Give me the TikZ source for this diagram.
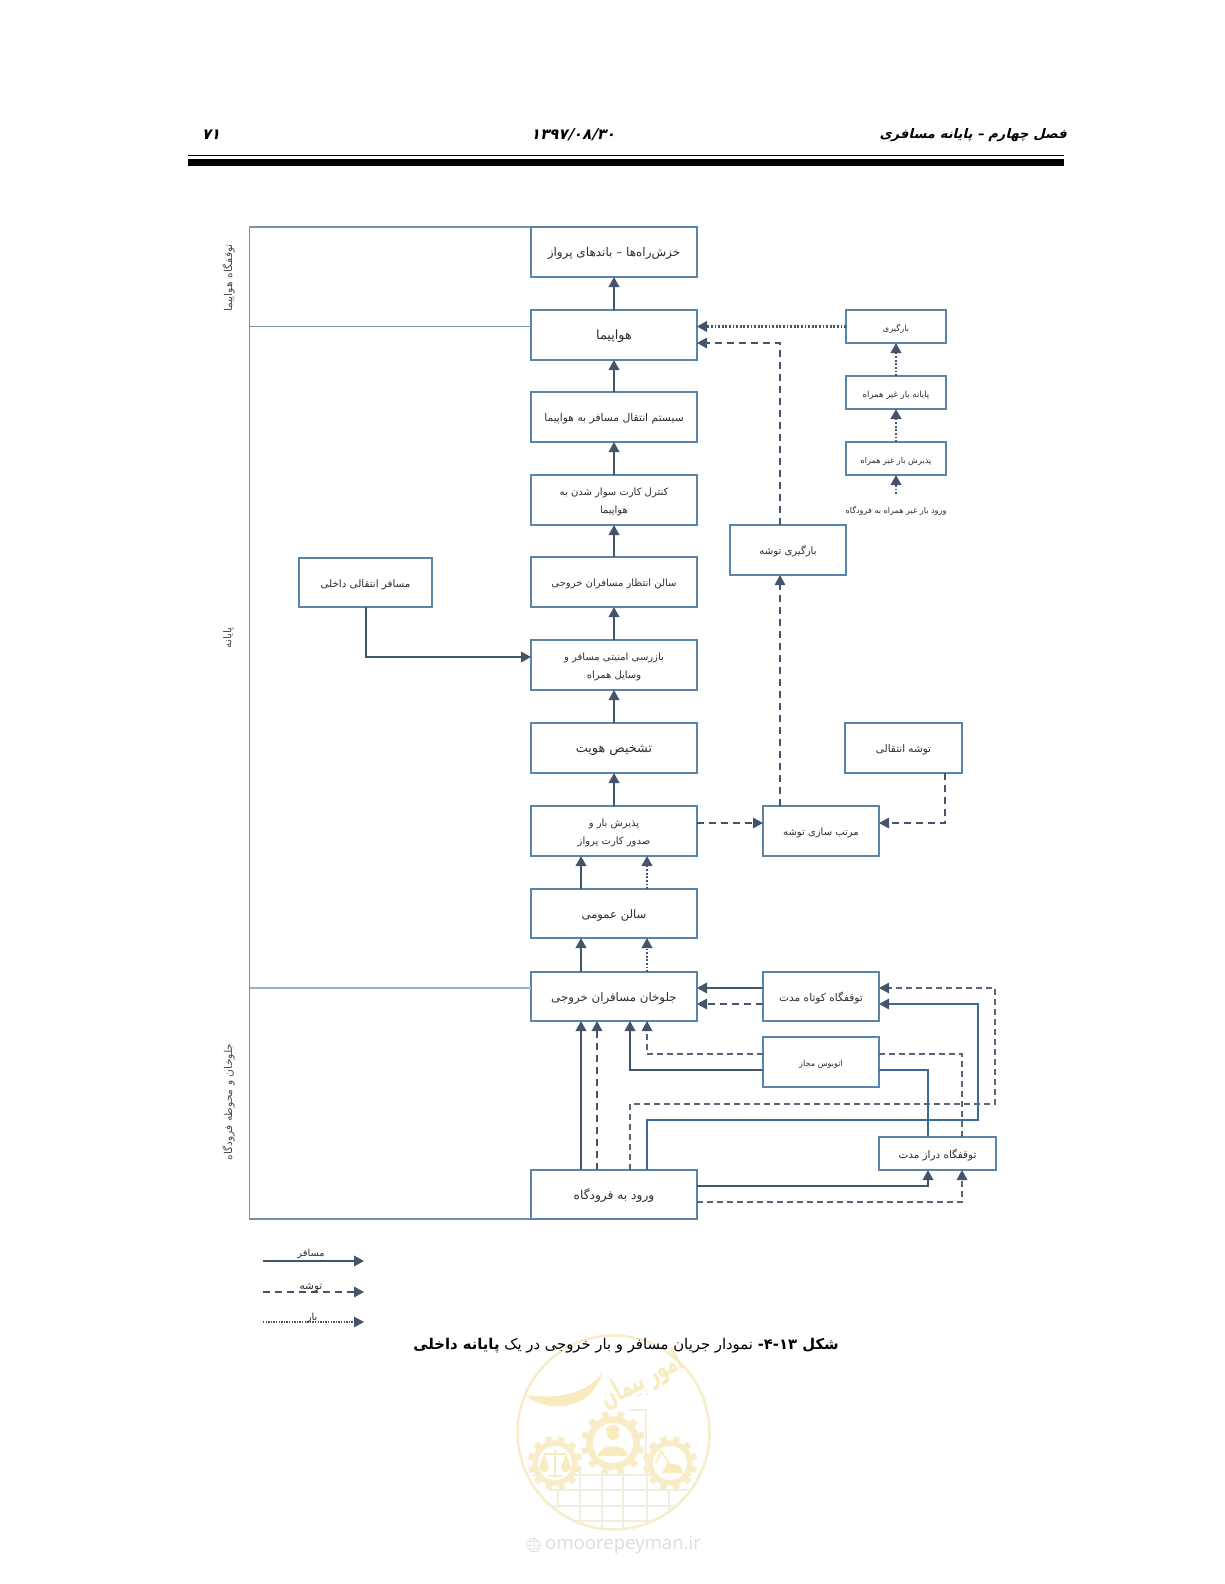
\documentclass[tikz,border=0pt]{standalone}
\usepackage{fontspec}
\usetikzlibrary{arrows.meta,calc}
\TeXXeTstate=1
\newfontfamily\fa[Script=Arabic]{DejaVu Sans}
\newfontfamily\fahead[Script=Arabic,FakeSlant=0.25]{DejaVu Sans}
\newfontfamily\webfont{Open Sans}
\newfontfamily\emojifont{Noto Emoji}
\newcommand{\rt}[1]{\raisebox{-2.5pt}[7pt][3pt]{\beginR #1\endR}}
\definecolor{bord}{HTML}{5A84A8}
\definecolor{flow}{HTML}{44546A}
\definecolor{bluel}{HTML}{3D6A96}
\definecolor{framec}{HTML}{6F93B0}
\definecolor{txt}{HTML}{2E2E2E}
\definecolor{wm}{HTML}{F8EDC8}
\definecolor{wmd}{HTML}{F8EBC0}
\definecolor{wmg}{HTML}{F2EEDF}
\definecolor{urlc}{HTML}{DCDCDC}
\tikzset{
  box/.style={draw=bord,line width=1.9pt,fill=white,inner sep=0pt,outer sep=0pt,align=center,text=txt,font=\fa\fontsize{10}{18}\selectfont},
  tipflow/.style={-{Triangle[width=10.5pt,length=10pt,color=flow,fill=flow]}},
  pax/.style={draw=flow,line width=2pt},
  bag/.style={draw=flow,line width=1.6pt,dash pattern=on 7pt off 5pt},
  frt/.style={draw=flow,line width=2.2pt,dash pattern=on 1.8pt off 1.8pt},
  paxthin/.style={draw=bluel,line width=1.5pt},
  bagthin/.style={draw=flow!90,line width=1.2pt,dash pattern=on 6pt off 4pt},
  frameline/.style={draw=framec,line width=1.2pt},
  sidelabel/.style={rotate=90,text=txt!85,font=\fa\fontsize{10.8}{12}\selectfont,inner sep=0pt},
  legendlabel/.style={text=txt,font=\fa\fontsize{9.8}{12}\selectfont,inner sep=0pt},
}
\newcommand{\bx}[7][]{%
  \pgfmathsetmacro\bxcx{(#3+#5)/2}\pgfmathsetmacro\bxcy{(#4+#6)/2}%
  \pgfmathsetmacro\bxw{#5-#3}\pgfmathsetmacro\bxh{#6-#4}%
  \node[box,#1,minimum width=\bxw pt,minimum height=\bxh pt] (#2) at (\bxcx,\bxcy) {#7};}
\newcommand{\gearshape}[4]{% cx cy router rinner
  \fill[wm] (#1,#2) circle (#3*0.84);
  \foreach \a in {0,30,...,330}{\fill[wm,rotate around={\a+15:(#1,#2)}] (#1-3.2,#2-#3) rectangle (#1+3.2,#2-#3*0.8);}
  \fill[white] (#1,#2) circle (#4);}
\begin{document}
\begin{tikzpicture}[x=1pt,y=-1pt]
\useasboundingbox (0,0) rectangle (1224,1584);
\fill[white] (0,0) rectangle (1224,1584);

% watermark
\draw[wm,line width=2.5pt] (613.5,1432.5) ellipse [x radius=96,y radius=97];
\begin{scope}[wmg,line width=2pt]
\draw (533,1474.5) -- (692,1474.5);
\draw (549,1490) -- (692,1490);
\draw (550,1506) -- (678,1506);
\draw (572,1521) -- (655,1521);
\foreach \xx/\yya/\yyb in {558/1490/1508,580/1470/1524,602/1470/1528,623/1470/1528,647/1470/1524,669/1490/1510}{\draw (\xx,\yya) -- (\xx,\yyb);}
\draw (630,1410) -- (646,1410) -- (646,1470);
\end{scope}
\gearshape{613}{1443}{32}{20}
\gearshape{555}{1463}{27}{17}
\gearshape{670}{1463}{27}{17}
% person
\fill[wmd] (613,1434) circle (6);
\fill[wmd] (606,1431) arc (180:360:7 and 6) -- cycle;
\fill[wmd] (598,1456) .. controls (599,1443) and (627,1443) .. (628,1456) -- cycle;
% scales
\draw[wmd,line width=1.3pt] (555,1450) -- (555,1475) (544,1454) -- (566,1454) (548,1476) -- (562,1476);
\fill[wmd] (544,1454) -- (539,1467) arc (180:0:5) -- cycle;
\fill[wmd] (566,1454) -- (561,1467) arc (180:0:5) -- cycle;
% excavator
\fill[wmd] (662,1473) -- (683,1473) -- (680,1465) -- (667,1463) -- cycle;
\draw[wmd,line width=1.8pt] (669,1463) -- (661,1451) -- (656,1463);
% calligraphy
\fill[wmd] (525,1395) .. controls (560,1400) and (590,1392) .. (602,1372) .. controls (596,1404) and (555,1418) .. (525,1395) -- cycle;
\node[wmd,inner sep=0pt,rotate=28,font=\fa\bfseries\fontsize{20}{24}\selectfont,xscale=0.85,yscale=1.5] (wmtext) at (642,1381) {\beginR امور پیمان\endR};
\node[text=urlc,inner sep=0pt,anchor=west,font=\webfont\fontsize{18.6}{20}\selectfont] (wmurl) at (545,1545) {omoorepeyman.ir};
\node[text=urlc,inner sep=0pt,font=\emojifont\fontsize{14}{15}\selectfont] (wmglobe) at (534,1545.5) {🌐};

% page header
\node[anchor=east,inner sep=0pt,font=\fahead\bfseries\fontsize{13.2}{15}\selectfont] (headr) at (1067,135.5) {\beginR فصل چهارم – پایانه مسافری\endR};
\node[inner sep=0pt,font=\fahead\bfseries\fontsize{15}{15}\selectfont] (headc) at (573,135) {\beginR ۱۳۹۷/۰۸/۳۰\endR};
\node[inner sep=0pt,font=\fahead\bfseries\fontsize{15}{15}\selectfont] (headl) at (211,135) {\beginR ۷۱\endR};
\fill[black] (188,154.6) rectangle (1064,155.8);
\fill[black] (188,159) rectangle (1064,166);

% frame
\draw[frameline] (531,227) -- (249.5,227) -- (249.5,1219) -- (531,1219);
\coordinate (frameA) at (249.5,326.5);
\coordinate (frameB) at (249.5,988);

% boxes
\bx[font=\fa\fontsize{12}{18}\selectfont]{taxi}{531}{227}{697}{277}{\rt{خزش‌راه‌ها – باندهای پرواز}}
\bx[font=\fa\fontsize{12.8}{18}\selectfont]{plane}{531}{310}{697}{360}{\rt{هواپیما}}
\bx[font=\fa\fontsize{10.7}{18}\selectfont]{sys}{531}{392}{697}{442}{\rt{سیستم انتقال مسافر به هواپیما}}
\bx{board}{531}{475}{697}{525}{\rt{کنترل کارت سوار شدن به}\\\rt{هواپیما}}
\bx{lounge}{531}{557}{697}{607}{\rt{سالن انتظار مسافران خروجی}}
\bx{secur}{531}{640}{697}{690}{\rt{بازرسی امنیتی مسافر و}\\\rt{وسایل همراه}}
\bx[font=\fa\fontsize{12.8}{18}\selectfont]{ident}{531}{723}{697}{773}{\rt{تشخیص هویت}}
\bx{check}{531}{806}{697}{856}{\rt{پذیرش بار و}\\\rt{صدور کارت پرواز}}
\bx[font=\fa\fontsize{11.6}{18}\selectfont]{hall}{531}{889}{697}{938}{\rt{سالن عمومی}}
\bx[font=\fa\fontsize{11.8}{18}\selectfont]{curb}{531}{972}{697}{1021}{\rt{جلوخان مسافران خروجی}}
\bx[font=\fa\fontsize{12.2}{18}\selectfont]{arrival}{531}{1170}{697}{1219}{\rt{ورود به فرودگاه}}
\bx[font=\fa\fontsize{10.6}{18}\selectfont]{short}{763}{972}{879}{1021}{\rt{توقفگاه کوتاه مدت}}
\bx[font=\fa\fontsize{8.1}{18}\selectfont]{shuttle}{763}{1037}{879}{1087}{\rt{اتوبوس مجاز}}
\bx[font=\fa\fontsize{10.4}{18}\selectfont]{long}{879}{1137}{996}{1170}{\rt{توقفگاه دراز مدت}}
\bx[font=\fa\fontsize{10.4}{18}\selectfont]{transfer}{845}{723}{962}{773}{\rt{توشه انتقالی}}
\bx{sort}{763}{806}{879}{856}{\rt{مرتب سازی توشه}}
\bx[font=\fa\fontsize{10.1}{18}\selectfont]{bagload}{730}{525}{846}{575}{\rt{بارگیری توشه}}
\bx[font=\fa\fontsize{10.3}{18}\selectfont]{dom}{299}{558}{432}{607}{\rt{مسافر انتقالی داخلی}}
\bx[font=\fa\fontsize{8.2}{18}\selectfont]{fload}{846}{310}{946}{343}{\rt{بارگیری}}
\bx[font=\fa\fontsize{8.5}{18}\selectfont]{fterm}{846}{376}{946}{409}{\rt{پایانه بار غیر همراه}}
\bx[font=\fa\fontsize{8.1}{18}\selectfont]{faccept}{846}{442}{946}{475}{\rt{پذیرش بار غیر همراه}}
\node[inner sep=0pt,text=txt,font=\fa\fontsize{8.1}{10}\selectfont] (fin) at (896,508.5) {\rt{ورود بار غیر همراه به فرودگاه}};
\coordinate (finTop) at (896,494);

% frame branches
\draw[frameline] (frameA) -- (plane.west |- frameA);
\draw[frameline,draw=framec!70] (frameB) -- (curb.west |- frameB);

% side labels
\node[sidelabel] (l1) at (228.5,278) {\beginR توقفگاه هواپیما\endR};
\node[sidelabel] (l2) at (228.5,638) {\beginR پایانه\endR};
\node[sidelabel] (l3) at (228.5,1102) {\beginR جلوخان و محوطه فرودگاه\endR};

% passenger column
\draw[pax,tipflow] (plane.north) -- (taxi.south);
\draw[pax,tipflow] (sys.north) -- (plane.south);
\draw[pax,tipflow] (board.north) -- (sys.south);
\draw[pax,tipflow] (lounge.north) -- (board.south);
\draw[pax,tipflow] (secur.north) -- (lounge.south);
\draw[pax,tipflow] (ident.north) -- (secur.south);
\draw[pax,tipflow] (check.north) -- (ident.south);
\draw[pax,tipflow] ([xshift=-33pt]hall.north) -- ([xshift=-33pt]check.south);
\draw[frt,tipflow] ([xshift=33pt]hall.north) -- ([xshift=33pt]check.south);
\draw[pax,tipflow] ([xshift=-33pt]curb.north) -- ([xshift=-33pt]hall.south);
\draw[frt,tipflow] ([xshift=33pt]curb.north) -- ([xshift=33pt]hall.south);
\draw[pax,tipflow] (dom.south) |- ([yshift=8pt]secur.west);

% arrival to curb
\draw[pax,tipflow] ([xshift=-33pt]curb.south |- arrival.north) -- ([xshift=-33pt]curb.south);
\draw[bag,tipflow] ([xshift=-17pt]curb.south |- arrival.north) -- ([xshift=-17pt]curb.south);
% short-term to curb
\draw[pax,tipflow] ([yshift=8.5pt]short.west) -- ([yshift=8.5pt]curb.east);
\draw[bag,tipflow] ([yshift=-7.5pt]short.west) -- ([yshift=-7.5pt]curb.east);
% shuttle
\draw[pax,tipflow] ([yshift=-8pt]shuttle.west) -| ([xshift=16pt]curb.south);
\draw[bagthin,tipflow] ([yshift=8pt]shuttle.west) -| ([xshift=33pt]curb.south);
\draw[paxthin] ([yshift=-8pt]shuttle.east) -| ([xshift=-9.5pt]long.north);
\draw[bagthin] ([yshift=8pt]shuttle.east) -| ([xshift=24.5pt]long.north);
% arrival to long-term
\draw[pax,tipflow] ([yshift=8.5pt]arrival.east) -| ([xshift=-9.5pt]long.south);
\draw[bagthin,line width=1.5pt,tipflow] ([yshift=-7.5pt]arrival.east) -| ([xshift=24.5pt]long.south);
% arrival to short-term
\coordinate (bendD) at (995,1104);
\coordinate (bendS) at (978,1120);
\draw[bagthin,tipflow] ([xshift=16pt]arrival.north) |- (bendD) |- ([yshift=8.5pt]short.east);
\draw[paxthin,tipflow] ([xshift=33pt]arrival.north) |- (bendS) |- ([yshift=-7.5pt]short.east);

% baggage
\draw[bag,tipflow] ([yshift=8pt]check.east) -- ([yshift=8pt]sort.west);
\draw[bag,tipflow] ([xshift=-17pt]transfer.south east) |- ([yshift=8pt]sort.east);
\draw[bag,tipflow] ([xshift=-41pt]sort.north) -- ([xshift=-41pt]sort.north |- bagload.south);
\draw[bag,tipflow] ([xshift=-8pt]bagload.north) |- ([yshift=-8pt]plane.east);

% freight
\draw[frt,tipflow] (fload.west) -- (plane.east |- fload.west);
\draw[frt,tipflow] (fterm.north) -- (fload.south);
\draw[frt,tipflow] (faccept.north) -- (fterm.south);
\draw[frt,tipflow] (finTop) -- (faccept.south);

% legend
\coordinate (ls1) at (263,1261); \coordinate (le1) at (364,1261);
\coordinate (ls2) at (263,1292); \coordinate (le2) at (364,1292);
\coordinate (ls3) at (263,1322); \coordinate (le3) at (364,1322);
\draw[pax,tipflow] (ls1) -- (le1);
\draw[bag,tipflow] (ls2) -- (le2);
\draw[frt,line width=1.3pt,dash pattern=on 1.3pt off 1.3pt,tipflow] (ls3) -- (le3);
\node[legendlabel] (lg1) at (311,1253.5) {\beginR مسافر\endR};
\node[legendlabel,font=\fa\fontsize{10.5}{12}\selectfont] (lg2) at (311,1287.5) {\beginR توشه\endR};
\node[legendlabel] (lg3) at (312,1318) {\beginR بار\endR};

% caption
\node[inner sep=0pt,text=black,font=\fa\fontsize{14.8}{17}\selectfont] (cap) at (626,1346)
 {\beginR\textbf{شکل ۴-۱۳-} نمودار جریان مسافر و بار خروجی در یک \textbf{پایانه داخلی}\endR};
\end{tikzpicture}
\end{document}
